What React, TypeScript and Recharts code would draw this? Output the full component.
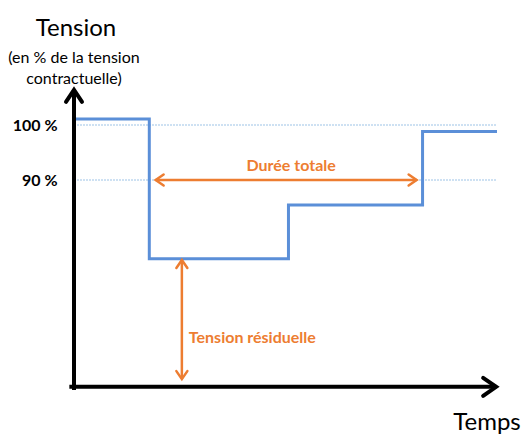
import React from 'react';
import { LineChart, Line, XAxis, YAxis, ReferenceLine, Customized } from 'recharts';

// Step profile of the voltage dip (time in arbitrary units, voltage in %)
const stepTimes = [0.3, 17.8, 50.7, 82.4, 100];
const stepVoltages = [101.1, 75.7, 85.45, 98.8, 98.8];

// Threshold reference levels
const thresholdLevels = [100, 90];
const thresholdLabels = ['100 %', '90 %'];

// Annotation arrows
const durationArrowX = [19.3, 81.0];
const durationArrowY = 90;
const residualArrowX = 25.5;
const residualArrowY = [53.8, 75.45];

// Axis arrows
const xAxisArrowX = [-1.1, 99.8];
const xAxisArrowY = 52.4;
const yAxisArrowX = 0;
const yAxisArrowY = [51.8, 106.4];

// Texts
const titleLines = ['Tension', '(en % de la tension', 'contractuelle)'];
const xTitle = 'Temps';
const durationLabel = 'Durée totale';
const residualLabel = 'Tension résiduelle';

const data = stepTimes.map((t, i) => ({ t, v: stepVoltages[i] }));

const FONT = 'Lato, "Open Sans", sans-serif';
const ORANGE = '#ED7D31';
const BLUE = '#5B8FD8';

function chevron(x1: number, y1: number, x2: number, y2: number, len: number, half: number) {
  const dx = x2 - x1;
  const dy = y2 - y1;
  const d = Math.sqrt(dx * dx + dy * dy) || 1;
  const ux = dx / d;
  const uy = dy / d;
  const px = -uy;
  const py = ux;
  const bx = x2 - ux * len;
  const by = y2 - uy * len;
  return `M${bx + px * half},${by + py * half} L${x2},${y2} L${bx - px * half},${by - py * half}`;
}

function makeArrowShape(opts: {
  color: string;
  width: number;
  len: number;
  half: number;
  both: boolean;
  label?: string;
  labelDx?: number;
  labelDy?: number;
  labelAnchor?: 'start' | 'middle' | 'end';
  labelRef?: 'mid' | 'end';
}) {
  return (props: any) => {
    const { x1, y1, x2, y2 } = props;
    if (x1 == null || y1 == null) return <g />;
    const lx = opts.labelRef === 'end' ? x2 : (x1 + x2) / 2;
    const ly = opts.labelRef === 'end' ? y2 : (y1 + y2) / 2;
    return (
      <g>
        <line x1={x1} y1={y1} x2={x2} y2={y2} stroke={opts.color} strokeWidth={opts.width} />
        <path
          d={chevron(x1, y1, x2, y2, opts.len, opts.half)}
          fill="none"
          stroke={opts.color}
          strokeWidth={opts.width}
          strokeLinecap="round"
          strokeLinejoin="miter"
        />
        {opts.both && (
          <path
            d={chevron(x2, y2, x1, y1, opts.len, opts.half)}
            fill="none"
            stroke={opts.color}
            strokeWidth={opts.width}
            strokeLinecap="round"
            strokeLinejoin="miter"
          />
        )}
        {opts.label && (
          <text
            x={lx + (opts.labelDx || 0)}
            y={ly + (opts.labelDy || 0)}
            textAnchor={opts.labelAnchor || 'middle'}
            fill={opts.color}
            fontFamily={FONT}
            fontWeight="bold"
            fontSize={16}
          >
            {opts.label}
          </text>
        )}
      </g>
    );
  };
}

const durationShape = makeArrowShape({
  color: ORANGE, width: 2.5, len: 8, half: 5.5, both: true,
  label: durationLabel, labelDx: 5, labelDy: -9, labelAnchor: 'middle', labelRef: 'mid',
});
const residualShape = makeArrowShape({
  color: ORANGE, width: 2.5, len: 8, half: 5.5, both: true,
  label: residualLabel, labelDx: 7, labelDy: -36, labelAnchor: 'start', labelRef: 'end',
});
const xAxisShape = makeArrowShape({ color: '#000', width: 4, len: 13, half: 9, both: false });
const yAxisShape = makeArrowShape({ color: '#000', width: 4, len: 12, half: 8, both: false });

const Titles = () => (
  <g fontFamily={FONT} fill="#000">
    <text x={76} y={36} textAnchor="middle" fontSize={24}>{titleLines[0]}</text>
    <text x={74} y={63} textAnchor="middle" fontSize={16}>{titleLines[1]}</text>
    <text x={74} y={84} textAnchor="middle" fontSize={16}>{titleLines[2]}</text>
    <text x={487} y={430} textAnchor="middle" fontSize={24}>{xTitle}</text>
  </g>
);

export default function App() {
  return (
    <div style={{ position: 'absolute', left: 0, top: 0, background: '#fff' }}>
      <LineChart
        width={522}
        height={434}
        data={data}
        margin={{ top: 86.5, right: 25, bottom: 39.5, left: 0 }}
      >
        <XAxis dataKey="t" type="number" domain={[-2, 100]} hide />
        <YAxis
          type="number"
          domain={[51, 107]}
          ticks={thresholdLevels}
          tickFormatter={(v: number) => thresholdLabels[thresholdLevels.indexOf(v)]}
          width={65.54}
          axisLine={false}
          tickLine={false}
          tickSize={0}
          tickMargin={8}
          tick={{ fontFamily: FONT, fontWeight: 'bold', fontSize: 16, fill: '#000' }}
        />
        {thresholdLevels.map((lvl) => (
          <ReferenceLine
            key={lvl}
            segment={[{ x: 0, y: lvl }, { x: 100, y: lvl }]}
            stroke="#9DC3E6"
            strokeWidth={1}
            strokeDasharray="2 1"
            ifOverflow="visible"
          />
        ))}
        <Line
          type="stepAfter"
          dataKey="v"
          stroke={BLUE}
          strokeWidth={3}
          dot={false}
          isAnimationActive={false}
        />
        <ReferenceLine
          segment={[{ x: durationArrowX[0], y: durationArrowY }, { x: durationArrowX[1], y: durationArrowY }]}
          shape={durationShape}
          ifOverflow="visible"
        />
        <ReferenceLine
          segment={[{ x: residualArrowX, y: residualArrowY[1] }, { x: residualArrowX, y: residualArrowY[0] }]}
          shape={residualShape}
          ifOverflow="visible"
        />
        <ReferenceLine
          segment={[{ x: yAxisArrowX, y: yAxisArrowY[0] }, { x: yAxisArrowX, y: yAxisArrowY[1] }]}
          shape={yAxisShape}
          ifOverflow="visible"
        />
        <ReferenceLine
          segment={[{ x: xAxisArrowX[0], y: xAxisArrowY }, { x: xAxisArrowX[1], y: xAxisArrowY }]}
          shape={xAxisShape}
          ifOverflow="visible"
        />
        <Customized component={Titles} />
      </LineChart>
    </div>
  );
}
